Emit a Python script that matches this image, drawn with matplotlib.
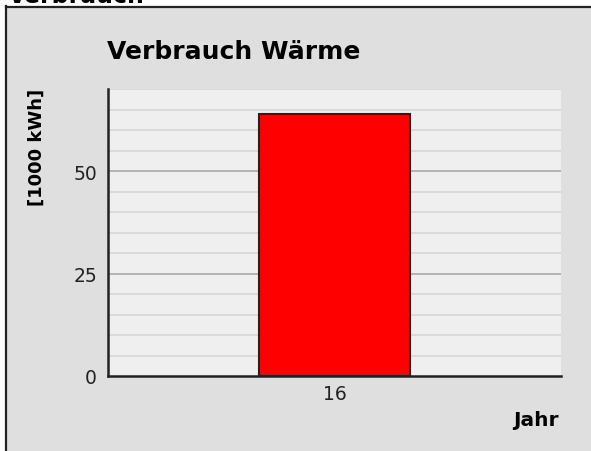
import matplotlib
matplotlib.use("Agg")
import matplotlib.pyplot as plt
from matplotlib.lines import Line2D
from matplotlib.patches import Rectangle

# Data
categories = ["16"]
values = [64.0]
y_ticks = [0, 25, 50]
minor_ticks = list(range(5, 75, 5))
title = "Verbrauch Wärme"
ylabel = "[1000 kWh]"
xlabel = "Jahr"
header = "Verbrauch"

W, H = 591, 452
dpi = 100
fig = plt.figure(figsize=(W / dpi, H / dpi), dpi=dpi)
fig.patch.set_facecolor("white")
plt.rcParams["font.family"] = ["DejaVu Sans"]

# panel background
fig.patches.append(Rectangle((5 / W, -0.1), 1.2, (H - 8) / H + 0.1, transform=fig.transFigure,
                             facecolor="#dfdfdf", edgecolor="none", zorder=-2))
fig.lines.append(Line2D([6 / W, 6 / W], [-0.1, 1 - 7 / H], transform=fig.transFigure,
                        color="#222222", lw=1.6, zorder=-1))
fig.lines.append(Line2D([6 / W, 1.1], [1 - 8 / H, 1 - 8 / H], transform=fig.transFigure,
                        color="#222222", lw=1.6, zorder=-1))

fig.text(8 / W, 1 - 3 / H, header, fontsize=17, fontweight="bold", ha="left", va="baseline")

ax = fig.add_axes([108 / W, 1 - 377 / H, (561 - 108) / W, (377 - 90) / H])
ax.set_zorder(1)
ax.set_facecolor("#efefef")

x = list(range(len(categories)))
ax.bar(x, values, width=1.0, color="#ff0000", edgecolor="#222222", linewidth=1.5, zorder=3)
ax.set_xlim(-1.5, 1.5)
ax.set_ylim(0, 70)

for v in minor_ticks:
    if v in y_ticks:
        continue
    ax.axhline(v, color="#d6d6d6", lw=1.2, zorder=1)
for v in y_ticks[1:]:
    ax.axhline(v, color="#b4b4b4", lw=1.4, zorder=1)

ax.set_yticks(y_ticks)
ax.set_xticks(x)
ax.set_xticklabels(categories)
ax.tick_params(axis="both", length=0, labelsize=13.5, colors="#222222")
ax.tick_params(axis="y", pad=8)
ax.tick_params(axis="x", pad=6)

for s in ["top", "right"]:
    ax.spines[s].set_visible(False)
for s in ["left", "bottom"]:
    ax.spines[s].set_color("#222222")
    ax.spines[s].set_linewidth(1.8)
    ax.spines[s].set_zorder(4)

fig.text(107 / W, 1 - 52 / H, title, fontsize=18, fontweight="bold", ha="left", va="center")
fig.text(37 / W, 1 - 147 / H, ylabel, fontsize=13, fontweight="bold", rotation=90,
         ha="center", va="center")
fig.text(559 / W, 1 - 421 / H, xlabel, fontsize=14.5, fontweight="bold", ha="right", va="center")

fig.savefig("out.png", dpi=dpi, facecolor=fig.get_facecolor())
